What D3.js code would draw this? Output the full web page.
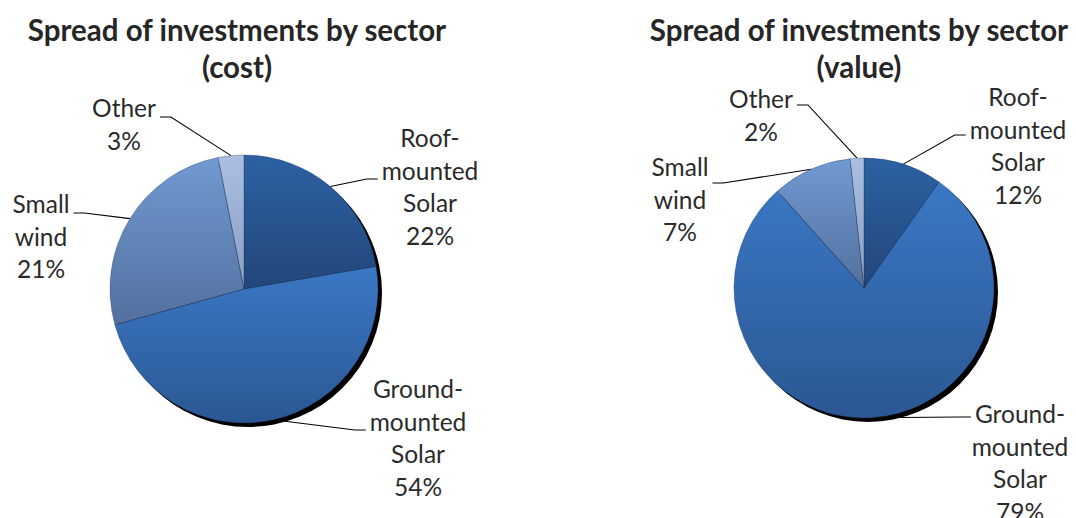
<!DOCTYPE html>
<html>
<head>
<meta charset="utf-8">
<script src="https://cdn.jsdelivr.net/npm/d3@7"></script>
<style>
  html, body { margin: 0; padding: 0; background: #fff; }
  svg { display: block; }
</style>
</head>
<body>
<svg id="chart" width="1076" height="518"></svg>
<script>
// ---- data ----
const categories = ["Roof-mounted Solar", "Ground-mounted Solar", "Small wind", "Other"];
const labelLines = [["Roof-", "mounted", "Solar"], ["Ground-", "mounted", "Solar"], ["Small", "wind"], ["Other"]];
// slice shares as drawn in the picture
const costShares = [22.3, 48.4, 26.2, 3.1];
const valueShares = [9.8, 78.6, 9.9, 1.7];
// percentages printed on the labels
const costLabels = ["22%", "54%", "21%", "3%"];
const valueLabels = ["12%", "79%", "7%", "2%"];
const titles = ["Spread of investments by sector", "(cost)", "(value)"];

// ---- styling / layout ----
const colorsTop = ["#2d61a3", "#3a78c4", "#7199d2", "#aabfe2"];
const colorsBot = ["#22467a", "#2b5793", "#52709e", "#8a9dc2"];
const LINE = 32.5;
const charts = [
  { sub: titles[1], tx: 237, cx: 244, cy: 289, r: 134, shares: costShares, labels: costLabels,
    layout: [
      { x: 430, y: 147, side: "left", ly: 179, li: 1 },
      { x: 418, y: 398, side: "left", ly: 430, li: 1 },
      { x: 41, y: 213, side: "right", ly: 213, li: 0 },
      { x: 124, y: 117, side: "right", ly: 117, li: 0 }
    ] },
  { sub: titles[2], tx: 859, cx: 864, cy: 288, r: 130, shares: valueShares, labels: valueLabels,
    layout: [
      { x: 1018, y: 106, side: "left", ly: 135, li: 1 },
      { x: 1020, y: 423, side: "left", ly: 417, li: 0 },
      { x: 680, y: 176, side: "right", ly: 183, li: 0 },
      { x: 761, y: 108, side: "right", ly: 105, li: 0 }
    ] }
];

const svg = d3.select("#chart");
const defs = svg.append("defs");
categories.forEach((c, i) => {
  const g = defs.append("linearGradient").attr("id", "grad" + i)
    .attr("x1", 0).attr("y1", 0).attr("x2", 0).attr("y2", 1);
  g.append("stop").attr("offset", "0%").attr("stop-color", colorsTop[i]);
  g.append("stop").attr("offset", "100%").attr("stop-color", colorsBot[i]);
});

const pie = d3.pie().sort(null).value(d => d);

charts.forEach(ch => {
  const g = svg.append("g");
  // title
  const t = g.append("text").attr("x", ch.tx).attr("y", 40)
    .attr("text-anchor", "middle")
    .style("font-family", "Lato, 'Open Sans', sans-serif")
    .style("font-weight", 700).style("font-size", "29.5px").style("fill", "#262626");
  t.append("tspan").attr("x", ch.tx).attr("y", 41).text(titles[0]);
  t.append("tspan").attr("x", ch.tx).attr("y", 78).text(ch.sub);

  const arcs = pie(ch.shares);
  const arc = d3.arc().innerRadius(0).outerRadius(ch.r);

  const leaderG = g.append("g");
  const labelG = g.append("g");
  const pieG = g.append("g").attr("transform", `translate(${ch.cx},${ch.cy})`);

  // shadow
  pieG.append("circle").attr("cx", 4).attr("cy", 4).attr("r", ch.r).attr("fill", "#000");

  pieG.selectAll("path.slice").data(arcs).join("path")
    .attr("class", "slice")
    .attr("d", arc)
    .attr("fill", (d, i) => `url(#grad${i})`)
    .attr("stroke", "rgba(30,50,90,0.45)")
    .attr("stroke-width", 0.8);

  arcs.forEach((a, i) => {
    const L = ch.layout[i];
    const lines = labelLines[i].concat([ch.labels[i]]);
    const txt = labelG.append("text")
      .attr("text-anchor", "middle")
      .style("font-family", "Lato, 'Open Sans', sans-serif")
      .style("font-size", "24.5px").style("fill", "#2b2b2b");
    const spans = lines.map((s, k) => txt.append("tspan").attr("x", L.x).attr("y", L.y + k * LINE).text(s));
    const w = spans[L.li].node().getComputedTextLength();
    const mid = (a.startAngle + a.endAngle) / 2;
    const sx = ch.cx + ch.r * Math.sin(mid);
    const sy = ch.cy - ch.r * Math.cos(mid);
    let endX, elbowX;
    if (L.side === "left") { endX = L.x - w / 2 - 4; elbowX = endX - 11; }
    else { endX = L.x + w / 2 + 4; elbowX = endX + 11; }
    leaderG.append("path")
      .attr("d", d3.line()([[sx, sy], [elbowX, L.ly], [endX, L.ly]]))
      .attr("fill", "none").attr("stroke", "#000").attr("stroke-width", 1.1);
  });
});
</script>
</body>
</html>
